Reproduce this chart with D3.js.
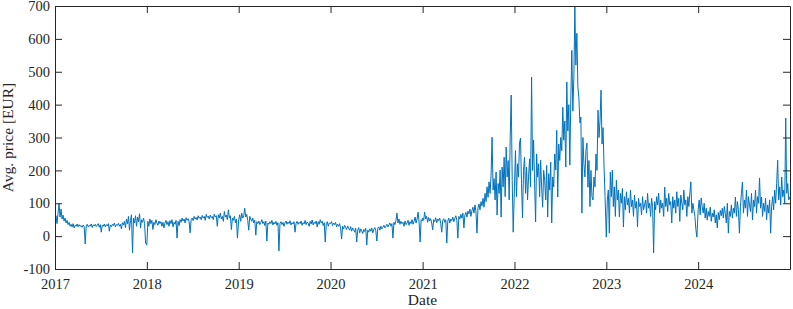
<!DOCTYPE html>
<html>
<head>
<meta charset="utf-8">
<style>
body { margin: 0; background: #fff; }
text { font-family: "Liberation Serif", "DejaVu Serif", serif; fill: #262626; }
</style>
</head>
<body>
<svg id="chart" width="793" height="309"></svg>
<script src="https://d3js.org/d3.v7.min.js"></script>
<script>

// average price, one reading every 4 days
const prices2017 = [45, 62, 38, 70, 98, 58, 82, 52, 64, 46, 55, 40, 48, 35, 42, 30,
  36, 28, 38, 25, 33, 30, 37, 28, 35, 30, 32, 27, 34, 29, -24, 31,
  36, 28, 33, 30, 37, 26, 34, 31, 36, 29, 33, 38, 27, 35, 12, 34,
  30, 37, 28, 35, 31, 38, 15, 34, 29, 36, 32, 40, 28, 35, 33, 39,
  30, 36, 22, 41, 34, 45, 26, 52, 38, 60, 18, 48, 65, -51, 55, 40,
  62, 30, 58, 44, 68, 25, 50, 42, 55, 38, -21];
const prices2018 = [-27, 45, 30, 52, 38, 48, 20, 42, 35, 50, 40, 33, 46, 38, 44, 30,
  42, 25, 40, 48, 35, 44, 30, 47, 38, 50, 28, 42, 36, 48, -6, 45,
  32, 50, 42, 55, 46, 52, 40, 56, 48, 53, 44, 10, 50, 55, 47, 60,
  52, 57, 49, 62, 54, 58, 50, 63, 55, 60, 48, 66, 57, 61, 52, 64,
  56, 60, 50, 67, 58, 62, 30, 65, 55, 70, 52, 60, 45, 75, 58, 64,
  50, 80, 56, 62, 20, 55, 48, 60, 40, 52, -6];
const prices2019 = [50, 65, 45, 70, 55, 62, 85, 58, 66, 48, 18, 60, 52, 45, 55, 40,
  48, 3, 44, 38, 46, 35, 42, 50, 38, 44, 32, 46, -15, 40, 36, 44,
  38, 48, 34, 42, 37, 45, 33, 41, -45, 38, 44, 35, 42, 30, 40, 46,
  36, 43, 38, 47, 34, 41, 37, 44, 12, 39, 45, 36, 42, 38, 46, 33,
  41, 37, 48, 35, 43, 39, 30, 45, 37, 49, 34, 42, 38, 46, 28, 44,
  36, 50, 40, 45, 32, 41, -18, 38, 44, 30, 40];
const prices2020 = [38, 44, 32, 40, 35, 42, 28, 36, 30, 38, 25, -9, 30, 22, 33, 26,
  20, 31, 24, 18, 29, 15, 25, 20, 12, 24, -18, 18, 26, 10, 22, 16,
  8, 20, 14, 24, -27, 18, 12, 22, 15, 25, 10, 20, 26, 16, -15, 24,
  28, 18, 30, 22, 27, 33, 25, 30, 36, 28, 34, 40, 30, 38, -6, 42,
  35, 48, 70, 40, 52, 36, 45, 38, 42, 30, 46, 35, 40, 48, 33, 44,
  38, 50, 36, 45, 58, 40, 52, 73, 42, -18, 50, 46];
const prices2021 = [55, 48, 73, 52, 60, 42, 57, 46, 53, 40, 19, 50, 44, 56, 41, 52,
  47, 55, 38, 12, 48, 53, 42, 50, -21, 46, 55, 40, 52, 47, 58, 44,
  54, 62, 48, -6, 60, 52, 66, 55, 70, 25, 64, 72, 58, 76, 68, 82,
  60, 78, 88, 70, 95, 74, 9, 85, 98, 80, 105, 92, 115, 88, 130, 105,
  150, 118, 165, 130, 185, 301, 140, 175, 110, 195, 64, 160, 130, 201, 58, 210,
  150, 240, 120, 271, 180, 230, 110, 300, 429, 170, 12];
const prices2022 = [150, 260, 120, 220, 180, 283, 298, 160, 55, 200, 240, 130, 210, 110, 180, 235,
  150, 484, 200, 292, 161, 43, 250, 180, 220, 120, 231, 150, 88, 200, 170, 110,
  215, 58, 190, 140, 225, 40, 180, 150, 250, 201, 322, 119, 280, 230, 300, 260,
  392, 292, 350, 210, 469, 320, 400, 216, 420, 565, 380, 480, 697, 520, 617, 453,
  420, 344, 362, 70, 300, 220, 180, 260, 283, 149, 230, 90, 200, 120, 110, 180,
  150, 250, 200, 383, 300, 350, 444, 280, 330, 210, 120];
const prices2023 = [-3, 110, 140, 9, 195, 120, 201, 90, 150, 60, 170, 110, 140, 58, 130, 100,
  145, 28, 120, 80, 135, 95, 115, 70, 140, 90, 110, 60, 125, 85, 105, 28,
  115, 90, 100, 65, 120, 80, 95, 110, 70, 130, 85, 100, 60, 115, 90, -51,
  105, 80, 120, 95, 131, 70, 110, 85, 100, 60, 149, 90, 115, 75, 130, 95,
  105, 40, 120, 85, 110, 70, 135, 90, 115, 45, 125, 100, 80, 140, 95, 110,
  60, 120, 90, 130, 165, 70, 100, 80, 60, 20, -3];
const prices2024 = [80, 110, 65, 116, 90, 70, 100, 55, 85, 49, 75, 60, 88, 45, 70, 58,
  80, 40, 65, 25, 72, 50, 78, 62, 85, 55, 90, 68, 40, 100, 9, 75,
  60, 95, 55, 85, 70, 119, 60, 105, 80, 9, 90, 130, 164, 70, 110, 85,
  140, 60, 120, 95, 75, 130, 49, 110, 90, 140, 70, 120, 100, 177, 85, 119,
  60, 100, 75, 115, 50, 95, 70, 110, 9, 90, 120, 80, 140, 100, 160, 231,
  110, 150, 95, 180, 120, 140, 100, 359, 130, 160, 110, 119];

const years = [2017, 2018, 2019, 2020, 2021, 2022, 2023, 2024];
const yearPrices = [prices2017, prices2018, prices2019, prices2020, prices2021, prices2022, prices2023, prices2024];
const yTicks = [-100, 0, 100, 200, 300, 400, 500, 600, 700];

let data = [];
years.forEach((yr, k) => {
    yearPrices[k].forEach((v, i) => {
        data.push({ date: new Date(yr, 0, 1 + 4 * i), value: v });
    });
});

let margin = {top: 6, right: 3, bottom: 40, left: 55},
    width = 793 - margin.left - margin.right,
    height = 309 - margin.top - margin.bottom;

let svg = d3.select("#chart");
let chart = svg.append("g")
    .attr("transform", "translate(" + margin.left + "," + margin.top + ")");

let xScale = d3.scaleTime()
    .domain([new Date(2017, 0, 1), new Date(2024, 11, 31)])
    .range([0, width]);
let yScale = d3.scaleLinear()
    .domain([-100, 700])
    .range([height, 0]);

let xTicks = years.map(y => new Date(y, 0, 1));
let tickLen = 7;

chart.append("defs").append("clipPath").attr("id", "clip")
    .append("rect").attr("width", width).attr("height", height);

// line
chart.append("path")
    .datum(data)
    .attr("clip-path", "url(#clip)")
    .attr("fill", "none")
    .attr("stroke", "#0072BD")
    .attr("stroke-width", 1)
    .attr("stroke-linejoin", "round")
    .attr("d", d3.line().x(d => xScale(d.date)).y(d => yScale(d.value)));

// axes, ticks inside like matlab
let xAxis = chart.append("g")
    .attr("class", "axis axis-x")
    .attr("transform", "translate(0," + height + ")")
    .call(d3.axisBottom(xScale).tickValues(xTicks).tickFormat(d3.timeFormat("%Y"))
        .tickSizeInner(-tickLen).tickSizeOuter(0).tickPadding(10));
let yAxis = chart.append("g")
    .attr("class", "axis axis-y")
    .call(d3.axisLeft(yScale).tickValues(yTicks).tickFormat(d => d)
        .tickSizeInner(-tickLen).tickSizeOuter(0).tickPadding(5));
chart.append("g")
    .call(d3.axisTop(xScale).tickValues(xTicks).tickFormat("")
        .tickSizeInner(-tickLen).tickSizeOuter(0));
chart.append("g")
    .attr("transform", "translate(" + width + ",0)")
    .call(d3.axisRight(yScale).tickValues(yTicks).tickFormat("")
        .tickSizeInner(-tickLen).tickSizeOuter(0));

chart.selectAll(".domain").attr("stroke", "#262626").attr("stroke-width", 1);
chart.selectAll(".tick line").attr("stroke", "#262626").attr("stroke-width", 1);
chart.selectAll(".tick text")
    .attr("fill", "#262626")
    .style("font-size", "14.5px")
    .style("font-family", "'Liberation Serif', serif");

// labels
chart.append("text")
    .attr("x", width / 2)
    .attr("y", height + 36)
    .attr("text-anchor", "middle")
    .style("font-size", "15.5px")
    .text("Date");
chart.append("text")
    .attr("transform", "translate(" + (-42) + "," + (height / 2) + ") rotate(-90)")
    .attr("text-anchor", "middle")
    .style("font-size", "15.5px")
    .text("Avg. price [EUR]");

</script>
</body>
</html>
